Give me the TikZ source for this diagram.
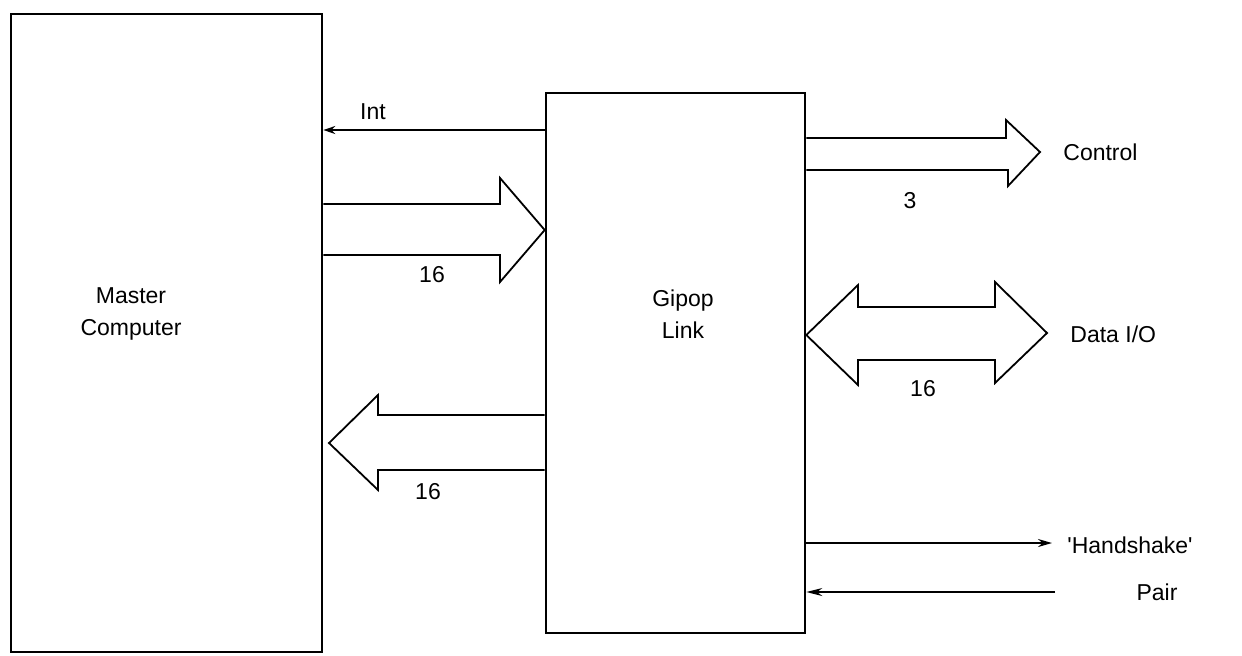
\documentclass[tikz,border=0pt]{standalone}
\usepackage{fontspec}
\setmainfont{Liberation Sans}
\newfontfamily\plainq{Liberation Sans}
\usetikzlibrary{arrows.meta}
\begin{document}
\begin{tikzpicture}[x=0.5pt,y=-0.5pt,
  boxst/.style={draw,line width=1.3pt,inner sep=0pt},
  fat/.style={draw,line width=0.9pt,line join=miter},
  wire/.style={line width=0.9pt},
  lbl/.style={font=\fontsize{11.5}{13}\selectfont,inner sep=0pt},
  txt/.style={font=\fontsize{11.5}{16}\selectfont,align=center,inner sep=0pt}]
\useasboundingbox (0,0) rectangle (1242,655);
% boxes
\node[boxst,minimum width=155.5pt,minimum height=319pt] (master) at (166.5,333) {};
\node[boxst,minimum width=129.5pt,minimum height=270pt] (gipop) at (675.5,363) {};
\node[txt] (mtxt) at (131,314) {Master\\Computer};
\node[txt] (gtxt) at (683,314) {Gipop\\Link};
% Int
\coordinate (intA) at (gipop.west |- 0,130);
\coordinate (intB) at (master.east |- 0,130);
\draw[wire,-{Stealth[length=6pt,width=4pt]}] (intA) -- (intB);
\node[lbl] (int) at (373,112) {Int};
% master -> gipop fat arrow
\draw[fat] (master.east |- 0,204) -- (500,204) -- (500,178) -- (gipop.west |- 0,230)
  -- (500,282) -- (500,255) -- (master.east |- 0,255);
\node[lbl] (n1) at (432,275) {16};
% gipop -> master fat arrow
\draw[fat] (gipop.west |- 0,415) -- (378,415) -- (378,395) -- (329,443)
  -- (378,490) -- (378,470) -- (gipop.west |- 0,470);
\node[lbl] (n2) at (428,492) {16};
% control
\draw[fat] (gipop.east |- 0,138) -- (1006,138) -- (1006,120) -- (1040,152)
  -- (1008,186) -- (1008,170) -- (gipop.east |- 0,170);
\node[lbl,anchor=west] (ctrl) at (1063,152) {Control};
\node[lbl] (n3) at (910,201) {3};
% data I/O
\draw[fat] (gipop.east |- 0,335) -- (858,285) -- (858,307) -- (995,307) -- (995,282)
  -- (1047,333) -- (995,383) -- (995,360) -- (858,360) -- (858,385) -- cycle;
\node[lbl,anchor=west] (dio) at (1070,334) {Data I/O};
\node[lbl] (n4) at (923,389) {16};
% handshake
\coordinate (hs1) at (1052,543);
\coordinate (hs2) at (1055,592);
\draw[wire,-{Stealth[length=7pt,width=4pt]}] (gipop.east |- 0,543) -- (hs1);
\draw[wire,-{Stealth[length=8pt,width=4pt,open]}] (hs2) -- (gipop.east |- 0,592);
\node[lbl] (hsk) at (1130,545) {\plainq 'Handshake'};
\node[lbl] (pair) at (1157,592) {Pair};
\end{tikzpicture}
\end{document}
